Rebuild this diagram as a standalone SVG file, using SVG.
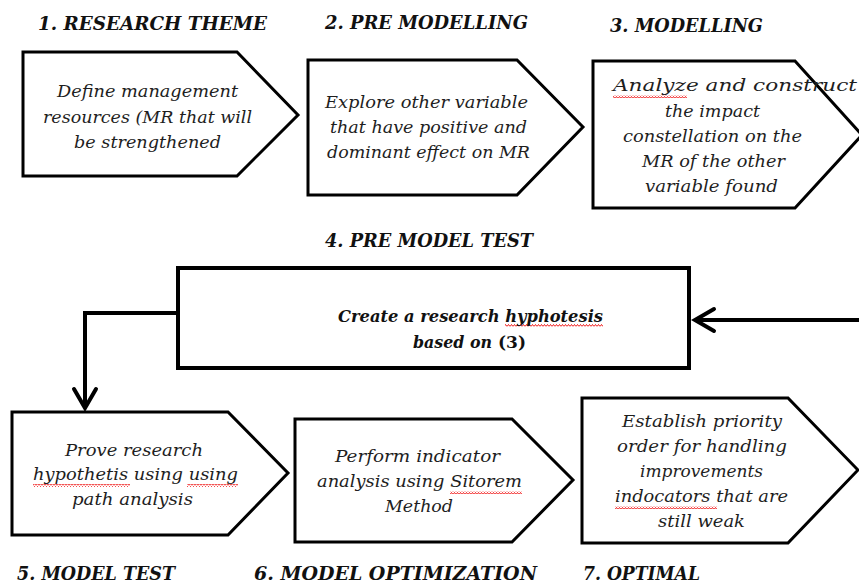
<svg xmlns="http://www.w3.org/2000/svg" width="859" height="585" viewBox="0 0 859 585">
<style>
.shape{fill:#fff;stroke:#000;stroke-width:3;stroke-linejoin:miter}
.rect4{fill:#fff;stroke:#000;stroke-width:4}
.title{font-family:"DejaVu Serif","Liberation Serif",serif;font-weight:bold;font-style:italic;font-size:18px;fill:#111}
.body{font-family:"DejaVu Serif","Liberation Serif",serif;font-style:italic;font-size:17px;fill:#1e1e1e}
.bodyb{font-family:"DejaVu Serif","Liberation Serif",serif;font-style:italic;font-weight:bold;font-size:17px;fill:#111}
.upright{font-family:"DejaVu Serif","Liberation Serif",serif;font-style:normal;font-weight:bold;font-size:17px;fill:#111}
.conn{fill:none;stroke:#000;stroke-width:4}
.sq{fill:url(#wave)}
</style>
<defs>
<marker id="arr" markerUnits="userSpaceOnUse" markerWidth="26" markerHeight="28" viewBox="0 0 26 28" refX="22" refY="14" orient="auto">
<path d="M3,3 L22,14 L3,25" fill="none" stroke="#000" stroke-width="4" stroke-linecap="round" stroke-linejoin="miter"/>
</marker>
<pattern id="wave" patternUnits="userSpaceOnUse" width="3" height="3">
<path d="M0,2.5 L1.5,0.5 L3,2.5" fill="none" stroke="#e00" stroke-width="0.9"/>
</pattern>
</defs>

<g id="connectors">
<path class="conn" d="M859,320 L695,320" marker-end="url(#arr)"/>
<path class="conn" d="M178,313 L85,313 L85,408" marker-end="url(#arr)"/>
</g>

<g id="node1">
<text class="title" x="38" y="30" textLength="229" lengthAdjust="spacingAndGlyphs">1. RESEARCH THEME</text>
<polygon class="shape" points="23,52 237,52 298,115 237,176 23,176"/>
<text class="body" x="57" y="97" textLength="181" lengthAdjust="spacingAndGlyphs">Define management</text>
<text class="body" x="43" y="123" textLength="209" lengthAdjust="spacingAndGlyphs">resources (MR that will</text>
<text class="body" x="74" y="148" textLength="147" lengthAdjust="spacingAndGlyphs">be strengthened</text>
</g>

<g id="node2">
<text class="title" x="325" y="29" textLength="203" lengthAdjust="spacingAndGlyphs">2. PRE MODELLING</text>
<polygon class="shape" points="308,60 517,60 583,127 517,195 308,195"/>
<text class="body" x="325" y="108" textLength="203" lengthAdjust="spacingAndGlyphs">Explore other variable</text>
<text class="body" x="330" y="133" textLength="197" lengthAdjust="spacingAndGlyphs">that have positive and</text>
<text class="body" x="327" y="158" textLength="203" lengthAdjust="spacingAndGlyphs">dominant effect on MR</text>
</g>

<g id="node3">
<text class="title" x="610" y="32" textLength="153" lengthAdjust="spacingAndGlyphs">3. MODELLING</text>
<polygon class="shape" points="593,61 795,61 862,135 795,208 593,208"/>
<rect class="sq" x="613" y="95" width="74" height="3"/>
<text class="body" x="613" y="91" textLength="244" lengthAdjust="spacingAndGlyphs">Analyze and construct</text>
<text class="body" x="665" y="117" textLength="95" lengthAdjust="spacingAndGlyphs">the impact</text>
<text class="body" x="623" y="142" textLength="179" lengthAdjust="spacingAndGlyphs">constellation on the</text>
<text class="body" x="642" y="167" textLength="143" lengthAdjust="spacingAndGlyphs">MR of the other</text>
<text class="body" x="645" y="192" textLength="133" lengthAdjust="spacingAndGlyphs">variable found</text>
</g>

<g id="node4">
<text class="title" x="325" y="247" textLength="208" lengthAdjust="spacingAndGlyphs">4. PRE MODEL TEST</text>
<rect class="rect4" x="178" y="268" width="511" height="100"/>
<rect class="sq" x="505" y="324" width="98" height="3"/>
<text class="bodyb" x="338" y="322" textLength="265" lengthAdjust="spacingAndGlyphs">Create a research hyphotesis</text>
<text class="bodyb" x="413" y="348" textLength="79" lengthAdjust="spacingAndGlyphs">based on</text>
<text class="upright" x="498" y="348" textLength="28" lengthAdjust="spacingAndGlyphs">(3)</text>
</g>

<g id="node5">
<polygon class="shape" points="12,412 228,412 288,473 228,535 12,535"/>
<rect class="sq" x="33" y="484" width="97" height="3"/>
<rect class="sq" x="187" y="484" width="51" height="3"/>
<text class="body" x="65" y="456" textLength="138" lengthAdjust="spacingAndGlyphs">Prove research</text>
<text class="body" x="33" y="480" textLength="205" lengthAdjust="spacingAndGlyphs">hypothetis using using</text>
<text class="body" x="72" y="505" textLength="121" lengthAdjust="spacingAndGlyphs">path analysis</text>
<text class="title" x="17" y="580" textLength="158" lengthAdjust="spacingAndGlyphs">5. MODEL TEST</text>
</g>

<g id="node6">
<polygon class="shape" points="295,419 512,419 573,480 512,542 295,542"/>
<rect class="sq" x="450" y="491" width="72" height="3"/>
<text class="body" x="335" y="462" textLength="165" lengthAdjust="spacingAndGlyphs">Perform indicator</text>
<text class="body" x="317" y="487" textLength="205" lengthAdjust="spacingAndGlyphs">analysis using Sitorem</text>
<text class="body" x="385" y="512" textLength="68" lengthAdjust="spacingAndGlyphs">Method</text>
<text class="title" x="254" y="580" textLength="283" lengthAdjust="spacingAndGlyphs">6. MODEL OPTIMIZATION</text>
</g>

<g id="node7">
<polygon class="shape" points="582,398 788,398 858,470 788,543 582,543"/>
<rect class="sq" x="615" y="506" width="102" height="3"/>
<text class="body" x="622" y="427" textLength="160" lengthAdjust="spacingAndGlyphs">Establish priority</text>
<text class="body" x="617" y="452" textLength="170" lengthAdjust="spacingAndGlyphs">order for handling</text>
<text class="body" x="640" y="477" textLength="123" lengthAdjust="spacingAndGlyphs">improvements</text>
<text class="body" x="615" y="502" textLength="173" lengthAdjust="spacingAndGlyphs">indocators that are</text>
<text class="body" x="658" y="527" textLength="87" lengthAdjust="spacingAndGlyphs">still weak</text>
<text class="title" x="583" y="580" textLength="117" lengthAdjust="spacingAndGlyphs">7. OPTIMAL</text>
</g>
</svg>
